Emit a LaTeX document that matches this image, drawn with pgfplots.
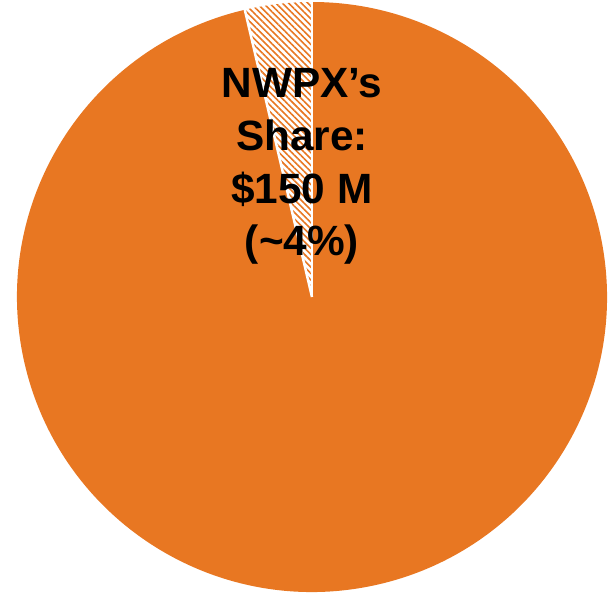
\documentclass[border=0pt]{standalone}
\usepackage{pgfplots}
\pgfplotsset{compat=1.18}
\usepackage{fontspec}
\setmainfont{Liberation Sans}
\usetikzlibrary{patterns.meta}
\definecolor{pieorange}{RGB}{232,119,34}
% data: NWPX share vs. rest (in $ M)
\def\nwpx{150}
\def\rest{3950}
\begin{document}
\begin{tikzpicture}
\pgfmathsetmacro\ang{360*(\nwpx/(\nwpx+\rest))}
\pgfmathsetmacro\startA{90}
\pgfmathsetmacro\endA{90+\ang}
\begin{axis}[
  scale only axis, width=615bp, height=599bp,
  xmin=-1.0576, xmax=1.0271, ymin=-1.0237, ymax=1.0068,
  hide axis, ticks=none, clip=false,
]
\fill[pieorange] (axis cs:0,0) -- ([shift={(\endA:295bp)}]axis cs:0,0) arc[start angle=\endA, end angle=450, radius=295bp] -- cycle;
\fill[pattern={Lines[angle=-45, distance=4.5bp, line width=1.6bp]}, pattern color=pieorange]
  (axis cs:0,0) -- ([shift={(\startA:295bp)}]axis cs:0,0) arc[start angle=\startA, end angle=\endA, radius=295bp] -- cycle;
\draw[white, line width=2.5bp] (axis cs:0,0) -- ([shift={(\startA:296bp)}]axis cs:0,0);
\draw[white, line width=2.5bp] (axis cs:0,0) -- ([shift={(\endA:296bp)}]axis cs:0,0);
\node[anchor=north, inner sep=0pt, align=center, font=\fontsize{42.5}{53}\selectfont\bfseries, text=black]
  at (axis cs:-0.034,0.776) {NWPX’s\\Share:\\\$150 M\\(\textasciitilde4\%)};
\end{axis}
\pgfresetboundingbox
\path (current axis.south west) rectangle (current axis.north east);
\end{tikzpicture}
\end{document}
